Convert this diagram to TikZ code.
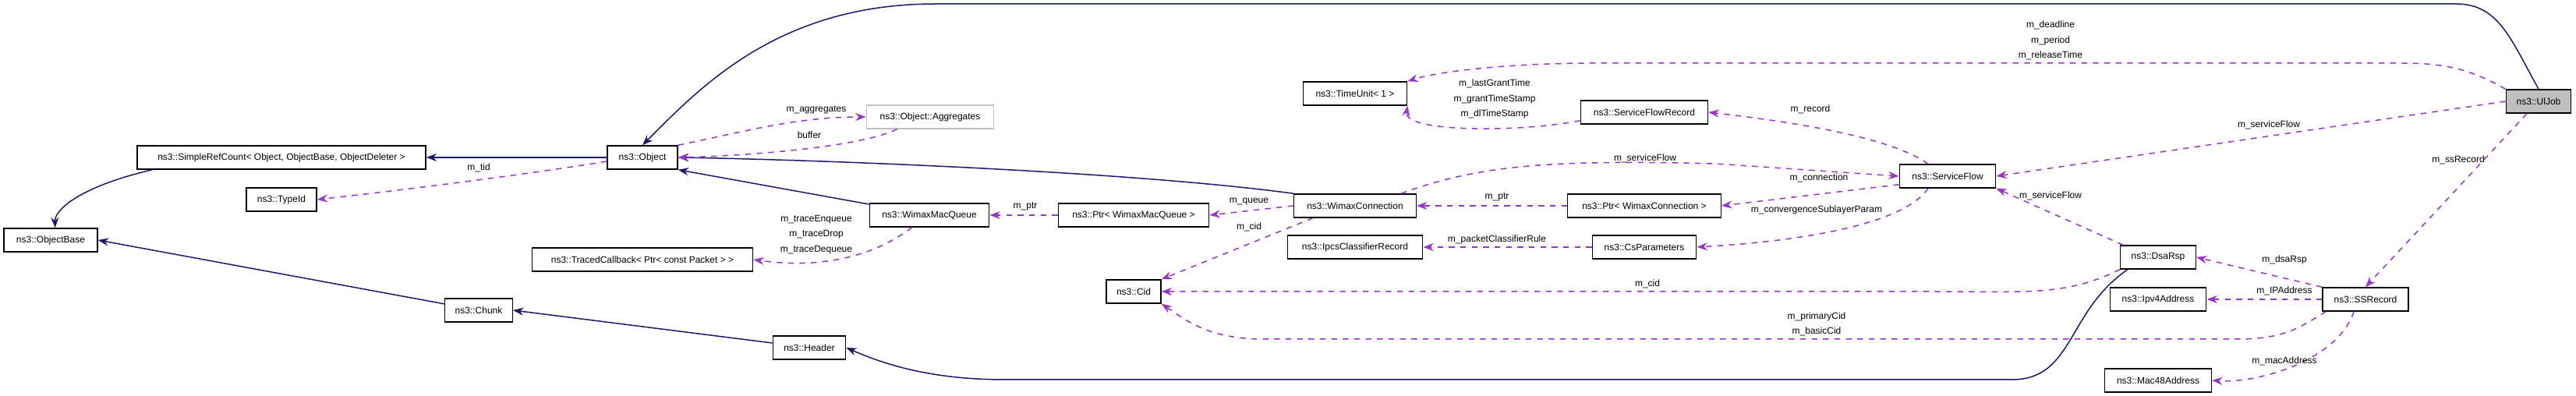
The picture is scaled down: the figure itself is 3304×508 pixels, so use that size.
\documentclass[tikz,border=0pt]{standalone}
\usepackage{fontspec}
\setmainfont{Liberation Sans}
\usetikzlibrary{arrows.meta}
\definecolor{inhcol}{HTML}{191970}
\definecolor{memcol}{HTML}{9A32CD}
\begin{document}
\begin{tikzpicture}[x=0.3pt,y=-0.3pt,
  every node/.style={font=\fontsize{3.6}{4.3}\selectfont,inner sep=0pt},
  box/.style={draw,line width=0.45pt,minimum height=9pt,fill=white},
  lbl/.style={},
  inh/.style={draw=inhcol,line width=0.45pt,-{Stealth[length=4pt,width=3pt]}},
  mem/.style={draw=memcol,line width=0.45pt,dash pattern=on 2.2pt off 2.2pt,-{Stealth[length=4pt,width=3pt]}}]
  \useasboundingbox (0,0) rectangle (3304,508);

  \draw (3256,130) node[box,minimum width=25pt,fill=black!25](UlJob) {ns3::UlJob};
  \draw (1738,120) node[box,minimum width=40pt](TimeUnit) {ns3::TimeUnit< 1 >};
  \draw (2109,144) node[box,minimum width=49pt](SFRecord) {ns3::ServiceFlowRecord};
  \draw (2498,226) node[box,minimum width=37pt](SFlow) {ns3::ServiceFlow};
  \draw (2109,264) node[box,minimum width=59pt](PtrWC) {ns3::Ptr< WimaxConnection >};
  \draw (2109,317) node[box,minimum width=40pt](CsParam) {ns3::CsParameters};
  \draw (2768,330) node[box,minimum width=29pt](DsaRsp) {ns3::DsaRsp};
  \draw (2768,384) node[box,minimum width=37pt](Ipv4) {ns3::Ipv4Address};
  \draw (3034,384) node[box,minimum width=33pt](SSRec) {ns3::SSRecord};
  \draw (2768,488) node[box,minimum width=41pt](Mac48) {ns3::Mac48Address};
  \draw (1738,264) node[box,minimum width=47pt](WConn) {ns3::WimaxConnection};
  \draw (1738,317) node[box,minimum width=52pt](Ipcs) {ns3::IpcsClassifierRecord};
  \draw (1454,374) node[box,minimum width=21pt](Cid) {ns3::Cid};
  \draw (1454,276) node[box,minimum width=58pt](PtrWMQ) {ns3::Ptr< WimaxMacQueue >};
  \draw (1192,276) node[box,minimum width=46pt](WMQ) {ns3::WimaxMacQueue};
  \draw (824,333) node[box,minimum width=85pt](Traced) {ns3::TracedCallback< Ptr< const Packet > >};
  \draw (1038,446) node[box,minimum width=28pt](Header) {ns3::Header};
  \draw (824,202) node[box,minimum width=27pt](Obj) {ns3::Object};
  \draw (1193,150) node[box,minimum width=49pt,draw=black!25](Aggr) {ns3::Object::Aggregates};
  \draw (361,202) node[box,minimum width=111pt](SRC) {ns3::SimpleRefCount< Object, ObjectBase, ObjectDeleter >};
  \draw (361,256) node[box,minimum width=27pt](TypeId) {ns3::TypeId};
  \draw (65,308) node[box,minimum width=36pt](ObjBase) {ns3::ObjectBase};
  \draw (614,398) node[box,minimum width=26pt](Chunk) {ns3::Chunk};

  % inheritance
  \path[inh] (Obj) -- (SRC);
  \path[inh] (SRC.south west) ++(20,0) .. controls (100,240) and (70,270) .. (ObjBase.70);
  \path[inh] (Chunk) -- (ObjBase.east);
  \path[inh] (Header) -- (Chunk.east);
  \path[inh] (WMQ) -- (Obj.south east);
  \path[inh] (WConn.north west) .. controls (1450,220) and (1050,205) .. (Obj.east);
  \path[inh] (UlJob.north) .. controls (3220,50) and (3205,5) .. (3150,5) -- (1200,5)
    .. controls (1000,5) and (900,110) .. (Obj.north);
  \path[inh] (DsaRsp.south west) ++(10,0) .. controls (2650,400) and (2660,487) .. (2580,487) -- (1290,487)
    .. controls (1200,487) and (1140,470) .. (Header.east);

  % members
  \path[mem] (Obj.west) ++(0,5) .. controls (700,220) and (550,240) .. (TypeId.east);
  \path[mem] (Obj.north east) .. controls (950,170) and (1020,150) .. (Aggr.west);
  \path[mem] (Aggr.south west) ++(40,0) .. controls (1100,190) and (950,200) .. (Obj.east);
  \path[mem] (WMQ.south west) ++(55,0) .. controls (1120,330) and (1050,345) .. (Traced.east);
  \path[mem] (PtrWMQ) -- (WMQ);
  \path[mem] (WConn.west) -- (PtrWMQ.east);
  \path[mem] (WConn.south west) ++(25,0) -- (Cid.north east);
  \path[mem] (DsaRsp.south west) .. controls (2650,380) and (2600,374) .. (2480,374) -- (Cid.east);
  \path[mem] (SSRec.south west) ++(5,0) .. controls (2950,420) and (2930,435) .. (2870,435) -- (1620,435)
    .. controls (1550,435) and (1520,410) .. (Cid.south east);
  \path[mem] (WConn.north east) ++(-20,0) .. controls (1900,210) and (2000,205) .. (2200,210) -- (SFlow.west);
  \path[mem] (SFlow.south west) ++(0,-5) -- (PtrWC.east);
  \path[mem] (PtrWC) -- (WConn);
  \path[mem] (SFlow.south) ++(-25,0) .. controls (2440,290) and (2300,310) .. (CsParam.east);
  \path[mem] (CsParam) -- (Ipcs);
  \path[mem] (SFlow.north) ++(-25,0) .. controls (2430,180) and (2330,160) .. (SFRecord.east);
  \path[mem] (SFRecord.south west) ++(0,-5) .. controls (1950,170) and (1800,170) .. (TimeUnit.south east);
  \path[mem] (UlJob.north west) .. controls (3170,90) and (3140,81) .. (3080,81) -- (2040,81)
    .. controls (1950,81) and (1850,90) .. (TimeUnit.north east);
  \path[mem] (UlJob.west) -- (SFlow.east);
  \path[mem] (UlJob.south) ++(-15,0) -- (SSRec.north);
  \path[mem] (DsaRsp.north) ++(-45,0) -- (SFlow.south east);
  \path[mem] (SSRec.north west) -- (DsaRsp.east);
  \path[mem] (SSRec) -- (Ipv4);
  \path[mem] (SSRec.south) ++(-15,0) .. controls (3000,460) and (2900,492) .. (Mac48.east);

  % labels
  \draw (614,215) node[lbl](lTid) {m\_tid};
  \draw (1047,141) node[lbl](lAggr) {m\_aggregates};
  \draw (1038,173) node[lbl](lBuf) {buffer};
  \draw (1047,301) node[lbl,align=center](lTrace) {m\_traceEnqueue\\[1.5pt]m\_traceDrop\\[1.5pt]m\_traceDequeue};
  \draw (1315,265) node[lbl](lPtrQ) {m\_ptr};
  \draw (1602,259) node[lbl](lQueue) {m\_queue};
  \draw (1602,291) node[lbl](lCidW) {m\_cid};
  \draw (2113,364) node[lbl](lCidD) {m\_cid};
  \draw (2330,416) node[lbl,align=center](lCidS) {m\_primaryCid\\[1.5pt]m\_basicCid};
  \draw (2110,203) node[lbl](lSFw) {m\_serviceFlow};
  \draw (2333,228) node[lbl](lConn) {m\_connection};
  \draw (1920,253) node[lbl](lPtrC) {m\_ptr};
  \draw (2330,269) node[lbl](lConv) {m\_convergenceSublayerParam};
  \draw (1920,307) node[lbl](lPkt) {m\_packetClassifierRule};
  \draw (2322,140) node[lbl](lRec) {m\_record};
  \draw (1917,127) node[lbl,align=center](lTimes) {m\_lastGrantTime\\[1.5pt]m\_grantTimeStamp\\[1.5pt]m\_dlTimeStamp};
  \draw (2630,52) node[lbl,align=center](lJob) {m\_deadline\\[1.5pt]m\_period\\[1.5pt]m\_releaseTime};
  \draw (2910,160) node[lbl](lSFu) {m\_serviceFlow};
  \draw (3153,205) node[lbl](lSS) {m\_ssRecord};
  \draw (2630,251) node[lbl](lSFd) {m\_serviceFlow};
  \draw (2930,333) node[lbl](lDsa) {m\_dsaRsp};
  \draw (2930,373) node[lbl](lIP) {m\_IPAddress};
  \draw (2930,463) node[lbl](lMac) {m\_macAddress};
\end{tikzpicture}
\end{document}
